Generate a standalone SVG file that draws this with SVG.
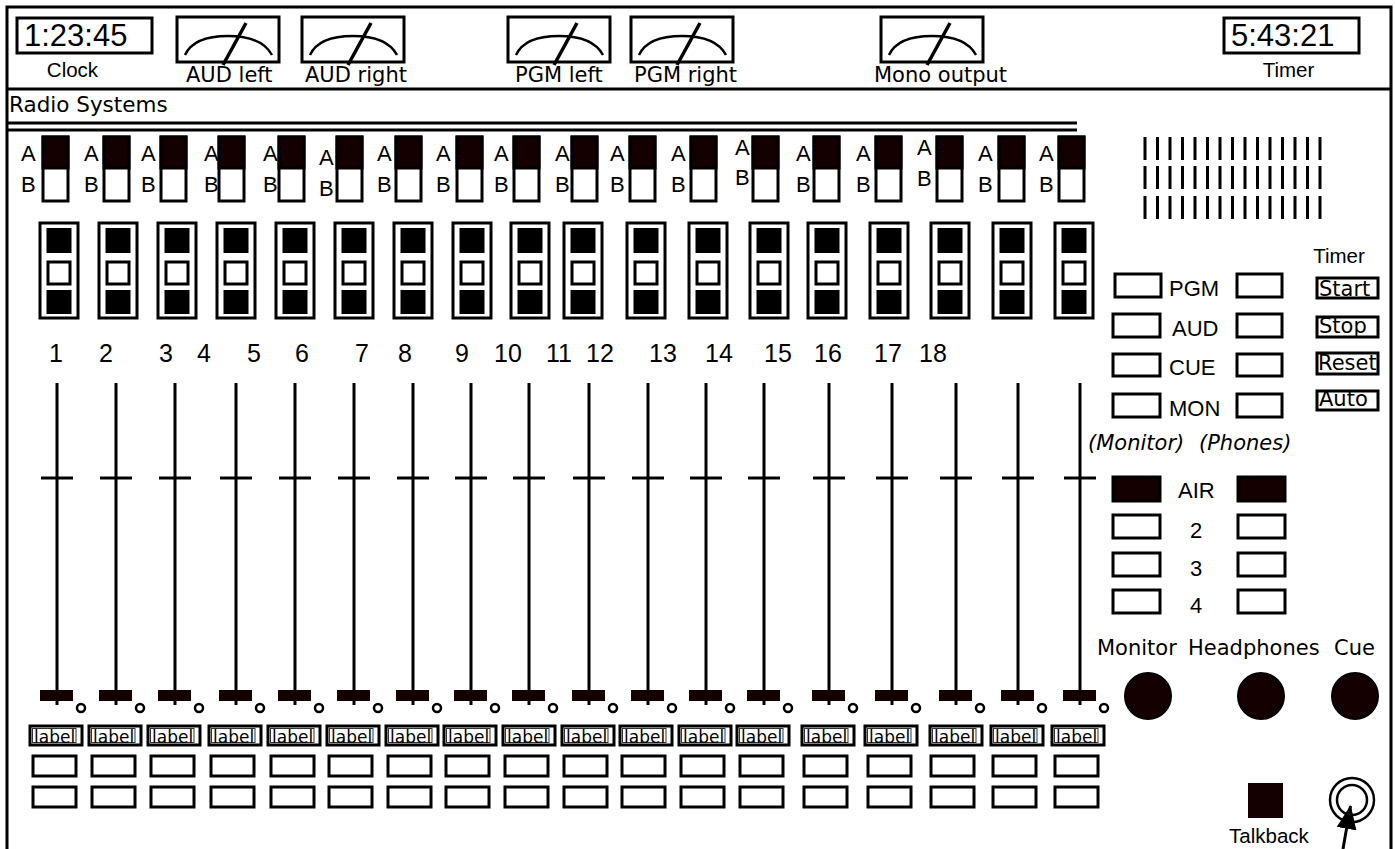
<svg xmlns="http://www.w3.org/2000/svg" width="1395" height="849" viewBox="0 0 1395 849">
<defs>
<style>
.frame{fill:none;stroke:#000;stroke-width:3}
.bx{fill:#fff;stroke:#000;stroke-width:3}
.dkb{fill:#140000;stroke:#000;stroke-width:3}
.sq{fill:#000}
.kn{fill:#140000}
.fl{stroke:#000;stroke-width:3;fill:none}
.kc{fill:#fff;stroke:#000;stroke-width:2.5}
.in{fill:none;stroke:#333;stroke-width:1}
.arc{fill:none;stroke:#000;stroke-width:2.5}
.nd{stroke:#000;stroke-width:3.5}
.knob{fill:#140000;stroke:#000;stroke-width:2}
.hv{font-family:"Liberation Sans",Arial,Helvetica,sans-serif;fill:#000}
.gv{font-family:"DejaVu Sans",Verdana,sans-serif;fill:#000}
.ab{font-size:22px}
.num{font-size:25px;text-anchor:middle}
.lb{font-size:17px}
.ml{font-size:21px}
.big{font-size:31px}
.cap{font-size:20.5px;text-anchor:middle}
.bus{font-size:22px}
.tb{font-size:21px}
</style>
<marker id="ah" viewBox="0 0 24 20" refX="23" refY="10" markerWidth="24" markerHeight="20" orient="auto" markerUnits="userSpaceOnUse">
<path d="M0,0 L24,10 L0,20 z" fill="#000"/>
</marker>
</defs>
<rect x="0" y="0" width="1395" height="849" fill="#fff"/>

<g id="frame">
<path class="frame" d="M7,849 V7 H1391 V849"/>
<line class="frame" x1="7" y1="89" x2="1391" y2="89"/>
<line class="frame" x1="7" y1="123" x2="1077" y2="123"/>
<line class="frame" x1="7" y1="130" x2="1077" y2="130"/>
</g>

<g id="clock">
<rect class="bx" x="17" y="18" width="135" height="35"/>
<text class="hv big" x="24" y="46">1:23:45</text>
<text class="hv cap" x="72.5" y="77">Clock</text>
</g>

<g id="meter-aud-left">
<rect class="bx" x="177" y="17" width="102" height="45"/>
<path class="arc" d="M185,55 C191,42 207,36 228,36 C249,36 265,42 272,55"/>
<line class="nd" x1="223" y1="65" x2="246" y2="23"/>
<text class="gv ml" x="186" y="82">AUD left</text>
</g>
<g id="meter-aud-right">
<rect class="bx" x="302" y="17" width="102" height="45"/>
<path class="arc" d="M310,55 C316,42 332,36 353,36 C374,36 390,42 397,55"/>
<line class="nd" x1="348" y1="65" x2="371" y2="23"/>
<text class="gv ml" x="305" y="82">AUD right</text>
</g>
<g id="meter-pgm-left">
<rect class="bx" x="508" y="17" width="102" height="45"/>
<path class="arc" d="M516,55 C522,42 538,36 559,36 C580,36 596,42 603,55"/>
<line class="nd" x1="554" y1="65" x2="577" y2="23"/>
<text class="gv ml" x="515" y="82">PGM left</text>
</g>
<g id="meter-pgm-right">
<rect class="bx" x="631" y="17" width="102" height="45"/>
<path class="arc" d="M639,55 C645,42 661,36 682,36 C703,36 719,42 726,55"/>
<line class="nd" x1="677" y1="65" x2="700" y2="23"/>
<text class="gv ml" x="634" y="82">PGM right</text>
</g>
<g id="meter-mono">
<rect class="bx" x="881" y="17" width="102" height="45"/>
<path class="arc" d="M889,55 C895,42 911,36 932,36 C953,36 969,42 976,55"/>
<line class="nd" x1="927" y1="65" x2="950" y2="23"/>
<text class="gv ml" x="874" y="82">Mono output</text>
</g>

<g id="timer-display">
<rect class="bx" x="1224" y="18" width="135" height="35"/>
<text class="hv big" x="1231" y="46">5:43:21</text>
<text class="hv cap" x="1288.5" y="77">Timer</text>
</g>

<g id="title">
<text class="gv" font-size="21.5" x="9" y="112">Radio Systems</text>
</g>

<g id="ch1">
<text class="hv ab" x="21" y="161">A</text><text class="hv ab" x="21" y="192">B</text>
<rect class="bx" x="43" y="137" width="25" height="64"/><rect class="dkb" x="43" y="137" width="25" height="31"/>
<rect class="bx" x="40" y="223" width="38" height="95"/><rect class="sq" x="46.5" y="228" width="25" height="25"/><rect class="bx" x="48" y="262" width="22" height="22"/><rect class="sq" x="46.5" y="290" width="25" height="24"/>
<text class="hv num" x="56" y="362">1</text>
<line class="fl" x1="57" y1="383" x2="57" y2="705"/><line class="fl" x1="41" y1="478" x2="73" y2="478"/>
<rect class="kn" x="40" y="690" width="33" height="11"/><circle class="kc" cx="81" cy="708" r="4"/>
<rect class="bx" x="30" y="726" width="52" height="19"/><rect class="in" x="32.5" y="728.5" width="43.5" height="14"/><text class="gv lb" x="34" y="742.5">label</text>
<rect class="bx" x="33" y="756" width="43" height="20"/><rect class="bx" x="33" y="787" width="43" height="20"/>
</g>
<g id="ch2">
<text class="hv ab" x="84" y="161">A</text><text class="hv ab" x="84" y="192">B</text>
<rect class="bx" x="104" y="137" width="25" height="64"/><rect class="dkb" x="104" y="137" width="25" height="31"/>
<rect class="bx" x="99" y="223" width="38" height="95"/><rect class="sq" x="105.5" y="228" width="25" height="25"/><rect class="bx" x="107" y="262" width="22" height="22"/><rect class="sq" x="105.5" y="290" width="25" height="24"/>
<text class="hv num" x="106" y="362">2</text>
<line class="fl" x1="116" y1="383" x2="116" y2="705"/><line class="fl" x1="100" y1="478" x2="132" y2="478"/>
<rect class="kn" x="99" y="690" width="33" height="11"/><circle class="kc" cx="140" cy="708" r="4"/>
<rect class="bx" x="89" y="726" width="52" height="19"/><rect class="in" x="91.5" y="728.5" width="43.5" height="14"/><text class="gv lb" x="93" y="742.5">label</text>
<rect class="bx" x="92" y="756" width="43" height="20"/><rect class="bx" x="92" y="787" width="43" height="20"/>
</g>
<g id="ch3">
<text class="hv ab" x="141" y="161">A</text><text class="hv ab" x="141" y="192">B</text>
<rect class="bx" x="161" y="137" width="25" height="64"/><rect class="dkb" x="161" y="137" width="25" height="31"/>
<rect class="bx" x="158" y="223" width="38" height="95"/><rect class="sq" x="164.5" y="228" width="25" height="25"/><rect class="bx" x="166" y="262" width="22" height="22"/><rect class="sq" x="164.5" y="290" width="25" height="24"/>
<text class="hv num" x="166" y="362">3</text>
<line class="fl" x1="175" y1="383" x2="175" y2="705"/><line class="fl" x1="159" y1="478" x2="191" y2="478"/>
<rect class="kn" x="158" y="690" width="33" height="11"/><circle class="kc" cx="199" cy="708" r="4"/>
<rect class="bx" x="148" y="726" width="52" height="19"/><rect class="in" x="150.5" y="728.5" width="43.5" height="14"/><text class="gv lb" x="152" y="742.5">label</text>
<rect class="bx" x="151" y="756" width="43" height="20"/><rect class="bx" x="151" y="787" width="43" height="20"/>
</g>
<g id="ch4">
<text class="hv ab" x="204" y="161">A</text><text class="hv ab" x="204" y="192">B</text>
<rect class="bx" x="219" y="137" width="25" height="64"/><rect class="dkb" x="219" y="137" width="25" height="31"/>
<rect class="bx" x="217" y="223" width="38" height="95"/><rect class="sq" x="223.5" y="228" width="25" height="25"/><rect class="bx" x="225" y="262" width="22" height="22"/><rect class="sq" x="223.5" y="290" width="25" height="24"/>
<text class="hv num" x="204" y="362">4</text>
<line class="fl" x1="236" y1="383" x2="236" y2="705"/><line class="fl" x1="220" y1="478" x2="252" y2="478"/>
<rect class="kn" x="219" y="690" width="33" height="11"/><circle class="kc" cx="260" cy="708" r="4"/>
<rect class="bx" x="209" y="726" width="52" height="19"/><rect class="in" x="211.5" y="728.5" width="43.5" height="14"/><text class="gv lb" x="213" y="742.5">label</text>
<rect class="bx" x="211" y="756" width="43" height="20"/><rect class="bx" x="211" y="787" width="43" height="20"/>
</g>
<g id="ch5">
<text class="hv ab" x="263" y="161">A</text><text class="hv ab" x="263" y="192">B</text>
<rect class="bx" x="279" y="137" width="25" height="64"/><rect class="dkb" x="279" y="137" width="25" height="31"/>
<rect class="bx" x="276" y="223" width="38" height="95"/><rect class="sq" x="282.5" y="228" width="25" height="25"/><rect class="bx" x="284" y="262" width="22" height="22"/><rect class="sq" x="282.5" y="290" width="25" height="24"/>
<text class="hv num" x="254" y="362">5</text>
<line class="fl" x1="295" y1="383" x2="295" y2="705"/><line class="fl" x1="279" y1="478" x2="311" y2="478"/>
<rect class="kn" x="278" y="690" width="33" height="11"/><circle class="kc" cx="319" cy="708" r="4"/>
<rect class="bx" x="268" y="726" width="52" height="19"/><rect class="in" x="270.5" y="728.5" width="43.5" height="14"/><text class="gv lb" x="272" y="742.5">label</text>
<rect class="bx" x="271" y="756" width="43" height="20"/><rect class="bx" x="271" y="787" width="43" height="20"/>
</g>
<g id="ch6">
<text class="hv ab" x="319" y="165">A</text><text class="hv ab" x="319" y="196">B</text>
<rect class="bx" x="337" y="137" width="25" height="64"/><rect class="dkb" x="337" y="137" width="25" height="31"/>
<rect class="bx" x="335" y="223" width="38" height="95"/><rect class="sq" x="341.5" y="228" width="25" height="25"/><rect class="bx" x="343" y="262" width="22" height="22"/><rect class="sq" x="341.5" y="290" width="25" height="24"/>
<text class="hv num" x="302" y="362">6</text>
<line class="fl" x1="354" y1="383" x2="354" y2="705"/><line class="fl" x1="338" y1="478" x2="370" y2="478"/>
<rect class="kn" x="337" y="690" width="33" height="11"/><circle class="kc" cx="378" cy="708" r="4"/>
<rect class="bx" x="327" y="726" width="52" height="19"/><rect class="in" x="329.5" y="728.5" width="43.5" height="14"/><text class="gv lb" x="331" y="742.5">label</text>
<rect class="bx" x="329" y="756" width="43" height="20"/><rect class="bx" x="329" y="787" width="43" height="20"/>
</g>
<g id="ch7">
<text class="hv ab" x="377" y="161">A</text><text class="hv ab" x="377" y="192">B</text>
<rect class="bx" x="396" y="137" width="25" height="64"/><rect class="dkb" x="396" y="137" width="25" height="31"/>
<rect class="bx" x="394" y="223" width="38" height="95"/><rect class="sq" x="400.5" y="228" width="25" height="25"/><rect class="bx" x="402" y="262" width="22" height="22"/><rect class="sq" x="400.5" y="290" width="25" height="24"/>
<text class="hv num" x="362" y="362">7</text>
<line class="fl" x1="413" y1="383" x2="413" y2="705"/><line class="fl" x1="397" y1="478" x2="429" y2="478"/>
<rect class="kn" x="396" y="690" width="33" height="11"/><circle class="kc" cx="437" cy="708" r="4"/>
<rect class="bx" x="386" y="726" width="52" height="19"/><rect class="in" x="388.5" y="728.5" width="43.5" height="14"/><text class="gv lb" x="390" y="742.5">label</text>
<rect class="bx" x="388" y="756" width="43" height="20"/><rect class="bx" x="388" y="787" width="43" height="20"/>
</g>
<g id="ch8">
<text class="hv ab" x="436" y="161">A</text><text class="hv ab" x="436" y="192">B</text>
<rect class="bx" x="457" y="137" width="25" height="64"/><rect class="dkb" x="457" y="137" width="25" height="31"/>
<rect class="bx" x="453" y="223" width="38" height="95"/><rect class="sq" x="459.5" y="228" width="25" height="25"/><rect class="bx" x="461" y="262" width="22" height="22"/><rect class="sq" x="459.5" y="290" width="25" height="24"/>
<text class="hv num" x="405" y="362">8</text>
<line class="fl" x1="471" y1="383" x2="471" y2="705"/><line class="fl" x1="455" y1="478" x2="487" y2="478"/>
<rect class="kn" x="454" y="690" width="33" height="11"/><circle class="kc" cx="495" cy="708" r="4"/>
<rect class="bx" x="444" y="726" width="52" height="19"/><rect class="in" x="446.5" y="728.5" width="43.5" height="14"/><text class="gv lb" x="448" y="742.5">label</text>
<rect class="bx" x="446" y="756" width="43" height="20"/><rect class="bx" x="446" y="787" width="43" height="20"/>
</g>
<g id="ch9">
<text class="hv ab" x="494" y="161">A</text><text class="hv ab" x="494" y="192">B</text>
<rect class="bx" x="514" y="137" width="25" height="64"/><rect class="dkb" x="514" y="137" width="25" height="31"/>
<rect class="bx" x="511" y="223" width="38" height="95"/><rect class="sq" x="517.5" y="228" width="25" height="25"/><rect class="bx" x="519" y="262" width="22" height="22"/><rect class="sq" x="517.5" y="290" width="25" height="24"/>
<text class="hv num" x="462" y="362">9</text>
<line class="fl" x1="529" y1="383" x2="529" y2="705"/><line class="fl" x1="513" y1="478" x2="545" y2="478"/>
<rect class="kn" x="512" y="690" width="33" height="11"/><circle class="kc" cx="553" cy="708" r="4"/>
<rect class="bx" x="503" y="726" width="52" height="19"/><rect class="in" x="505.5" y="728.5" width="43.5" height="14"/><text class="gv lb" x="507" y="742.5">label</text>
<rect class="bx" x="505" y="756" width="43" height="20"/><rect class="bx" x="505" y="787" width="43" height="20"/>
</g>
<g id="ch10">
<text class="hv ab" x="555" y="161">A</text><text class="hv ab" x="555" y="192">B</text>
<rect class="bx" x="572" y="137" width="25" height="64"/><rect class="dkb" x="572" y="137" width="25" height="31"/>
<rect class="bx" x="564" y="223" width="38" height="95"/><rect class="sq" x="570.5" y="228" width="25" height="25"/><rect class="bx" x="572" y="262" width="22" height="22"/><rect class="sq" x="570.5" y="290" width="25" height="24"/>
<text class="hv num" x="508" y="362">10</text>
<line class="fl" x1="589" y1="383" x2="589" y2="705"/><line class="fl" x1="573" y1="478" x2="605" y2="478"/>
<rect class="kn" x="572" y="690" width="33" height="11"/><circle class="kc" cx="613" cy="708" r="4"/>
<rect class="bx" x="562" y="726" width="52" height="19"/><rect class="in" x="564.5" y="728.5" width="43.5" height="14"/><text class="gv lb" x="566" y="742.5">label</text>
<rect class="bx" x="564" y="756" width="43" height="20"/><rect class="bx" x="564" y="787" width="43" height="20"/>
</g>
<g id="ch11">
<text class="hv ab" x="610" y="161">A</text><text class="hv ab" x="610" y="192">B</text>
<rect class="bx" x="630" y="137" width="25" height="64"/><rect class="dkb" x="630" y="137" width="25" height="31"/>
<rect class="bx" x="627" y="223" width="38" height="95"/><rect class="sq" x="633.5" y="228" width="25" height="25"/><rect class="bx" x="635" y="262" width="22" height="22"/><rect class="sq" x="633.5" y="290" width="25" height="24"/>
<text class="hv num" x="559" y="362">11</text>
<line class="fl" x1="648" y1="383" x2="648" y2="705"/><line class="fl" x1="632" y1="478" x2="664" y2="478"/>
<rect class="kn" x="631" y="690" width="33" height="11"/><circle class="kc" cx="672" cy="708" r="4"/>
<rect class="bx" x="620" y="726" width="52" height="19"/><rect class="in" x="622.5" y="728.5" width="43.5" height="14"/><text class="gv lb" x="624" y="742.5">label</text>
<rect class="bx" x="622" y="756" width="43" height="20"/><rect class="bx" x="622" y="787" width="43" height="20"/>
</g>
<g id="ch12">
<text class="hv ab" x="671" y="161">A</text><text class="hv ab" x="671" y="192">B</text>
<rect class="bx" x="691" y="137" width="25" height="64"/><rect class="dkb" x="691" y="137" width="25" height="31"/>
<rect class="bx" x="689" y="223" width="38" height="95"/><rect class="sq" x="695.5" y="228" width="25" height="25"/><rect class="bx" x="697" y="262" width="22" height="22"/><rect class="sq" x="695.5" y="290" width="25" height="24"/>
<text class="hv num" x="600" y="362">12</text>
<line class="fl" x1="706" y1="383" x2="706" y2="705"/><line class="fl" x1="690" y1="478" x2="722" y2="478"/>
<rect class="kn" x="689" y="690" width="33" height="11"/><circle class="kc" cx="730" cy="708" r="4"/>
<rect class="bx" x="679" y="726" width="52" height="19"/><rect class="in" x="681.5" y="728.5" width="43.5" height="14"/><text class="gv lb" x="683" y="742.5">label</text>
<rect class="bx" x="681" y="756" width="43" height="20"/><rect class="bx" x="681" y="787" width="43" height="20"/>
</g>
<g id="ch13">
<text class="hv ab" x="735" y="155">A</text><text class="hv ab" x="735" y="185">B</text>
<rect class="bx" x="753" y="137" width="25" height="64"/><rect class="dkb" x="753" y="137" width="25" height="31"/>
<rect class="bx" x="750" y="223" width="38" height="95"/><rect class="sq" x="756.5" y="228" width="25" height="25"/><rect class="bx" x="758" y="262" width="22" height="22"/><rect class="sq" x="756.5" y="290" width="25" height="24"/>
<text class="hv num" x="663" y="362">13</text>
<line class="fl" x1="764" y1="383" x2="764" y2="705"/><line class="fl" x1="748" y1="478" x2="780" y2="478"/>
<rect class="kn" x="747" y="690" width="33" height="11"/><circle class="kc" cx="788" cy="708" r="4"/>
<rect class="bx" x="737" y="726" width="52" height="19"/><rect class="in" x="739.5" y="728.5" width="43.5" height="14"/><text class="gv lb" x="741" y="742.5">label</text>
<rect class="bx" x="740" y="756" width="43" height="20"/><rect class="bx" x="740" y="787" width="43" height="20"/>
</g>
<g id="ch14">
<text class="hv ab" x="796" y="161">A</text><text class="hv ab" x="796" y="192">B</text>
<rect class="bx" x="814" y="137" width="25" height="64"/><rect class="dkb" x="814" y="137" width="25" height="31"/>
<rect class="bx" x="808" y="223" width="38" height="95"/><rect class="sq" x="814.5" y="228" width="25" height="25"/><rect class="bx" x="816" y="262" width="22" height="22"/><rect class="sq" x="814.5" y="290" width="25" height="24"/>
<text class="hv num" x="719" y="362">14</text>
<line class="fl" x1="829" y1="383" x2="829" y2="705"/><line class="fl" x1="813" y1="478" x2="845" y2="478"/>
<rect class="kn" x="812" y="690" width="33" height="11"/><circle class="kc" cx="853" cy="708" r="4"/>
<rect class="bx" x="802" y="726" width="52" height="19"/><rect class="in" x="804.5" y="728.5" width="43.5" height="14"/><text class="gv lb" x="806" y="742.5">label</text>
<rect class="bx" x="804" y="756" width="43" height="20"/><rect class="bx" x="804" y="787" width="43" height="20"/>
</g>
<g id="ch15">
<text class="hv ab" x="856" y="161">A</text><text class="hv ab" x="856" y="192">B</text>
<rect class="bx" x="876" y="137" width="25" height="64"/><rect class="dkb" x="876" y="137" width="25" height="31"/>
<rect class="bx" x="870" y="223" width="38" height="95"/><rect class="sq" x="876.5" y="228" width="25" height="25"/><rect class="bx" x="878" y="262" width="22" height="22"/><rect class="sq" x="876.5" y="290" width="25" height="24"/>
<text class="hv num" x="778" y="362">15</text>
<line class="fl" x1="892" y1="383" x2="892" y2="705"/><line class="fl" x1="876" y1="478" x2="908" y2="478"/>
<rect class="kn" x="875" y="690" width="33" height="11"/><circle class="kc" cx="916" cy="708" r="4"/>
<rect class="bx" x="865" y="726" width="52" height="19"/><rect class="in" x="867.5" y="728.5" width="43.5" height="14"/><text class="gv lb" x="869" y="742.5">label</text>
<rect class="bx" x="868" y="756" width="43" height="20"/><rect class="bx" x="868" y="787" width="43" height="20"/>
</g>
<g id="ch16">
<text class="hv ab" x="917" y="155">A</text><text class="hv ab" x="917" y="186">B</text>
<rect class="bx" x="937" y="137" width="25" height="64"/><rect class="dkb" x="937" y="137" width="25" height="31"/>
<rect class="bx" x="931" y="223" width="38" height="95"/><rect class="sq" x="937.5" y="228" width="25" height="25"/><rect class="bx" x="939" y="262" width="22" height="22"/><rect class="sq" x="937.5" y="290" width="25" height="24"/>
<text class="hv num" x="828" y="362">16</text>
<line class="fl" x1="956" y1="383" x2="956" y2="705"/><line class="fl" x1="940" y1="478" x2="972" y2="478"/>
<rect class="kn" x="939" y="690" width="33" height="11"/><circle class="kc" cx="980" cy="708" r="4"/>
<rect class="bx" x="930" y="726" width="52" height="19"/><rect class="in" x="932.5" y="728.5" width="43.5" height="14"/><text class="gv lb" x="934" y="742.5">label</text>
<rect class="bx" x="931" y="756" width="43" height="20"/><rect class="bx" x="931" y="787" width="43" height="20"/>
</g>
<g id="ch17">
<text class="hv ab" x="978" y="161">A</text><text class="hv ab" x="978" y="192">B</text>
<rect class="bx" x="999" y="137" width="25" height="64"/><rect class="dkb" x="999" y="137" width="25" height="31"/>
<rect class="bx" x="993" y="223" width="38" height="95"/><rect class="sq" x="999.5" y="228" width="25" height="25"/><rect class="bx" x="1001" y="262" width="22" height="22"/><rect class="sq" x="999.5" y="290" width="25" height="24"/>
<text class="hv num" x="888" y="362">17</text>
<line class="fl" x1="1018" y1="383" x2="1018" y2="705"/><line class="fl" x1="1002" y1="478" x2="1034" y2="478"/>
<rect class="kn" x="1001" y="690" width="33" height="11"/><circle class="kc" cx="1042" cy="708" r="4"/>
<rect class="bx" x="991" y="726" width="52" height="19"/><rect class="in" x="993.5" y="728.5" width="43.5" height="14"/><text class="gv lb" x="995" y="742.5">label</text>
<rect class="bx" x="993" y="756" width="43" height="20"/><rect class="bx" x="993" y="787" width="43" height="20"/>
</g>
<g id="ch18">
<text class="hv ab" x="1039" y="161">A</text><text class="hv ab" x="1039" y="192">B</text>
<rect class="bx" x="1059" y="137" width="25" height="64"/><rect class="dkb" x="1059" y="137" width="25" height="31"/>
<rect class="bx" x="1055" y="223" width="38" height="95"/><rect class="sq" x="1061.5" y="228" width="25" height="25"/><rect class="bx" x="1063" y="262" width="22" height="22"/><rect class="sq" x="1061.5" y="290" width="25" height="24"/>
<text class="hv num" x="933" y="362">18</text>
<line class="fl" x1="1080" y1="383" x2="1080" y2="705"/><line class="fl" x1="1064" y1="478" x2="1096" y2="478"/>
<rect class="kn" x="1063" y="690" width="33" height="11"/><circle class="kc" cx="1104" cy="708" r="4"/>
<rect class="bx" x="1052" y="726" width="52" height="19"/><rect class="in" x="1054.5" y="728.5" width="43.5" height="14"/><text class="gv lb" x="1056" y="742.5">label</text>
<rect class="bx" x="1055" y="756" width="43" height="20"/><rect class="bx" x="1055" y="787" width="43" height="20"/>
</g>

<g id="level-ticks">
<path class="fl" d="M1145,137V160M1157.5,137V160M1170,137V160M1182.5,137V160M1195,137V160M1207.5,137V160M1220,137V160M1232.5,137V160M1245,137V160M1257.5,137V160M1270,137V160M1282.5,137V160M1295,137V160M1307.5,137V160M1320,137V160
M1145,166V189M1157.5,166V189M1170,166V189M1182.5,166V189M1195,166V189M1207.5,166V189M1220,166V189M1232.5,166V189M1245,166V189M1257.5,166V189M1270,166V189M1282.5,166V189M1295,166V189M1307.5,166V189M1320,166V189
M1145,196V219M1157.5,196V219M1170,196V219M1182.5,196V219M1195,196V219M1207.5,196V219M1220,196V219M1232.5,196V219M1245,196V219M1257.5,196V219M1270,196V219M1282.5,196V219M1295,196V219M1307.5,196V219M1320,196V219"/>
</g>

<g id="timer-buttons">
<text class="hv cap" x="1339" y="263">Timer</text>
<rect class="bx" x="1317" y="278" width="61" height="20"/><text class="gv tb" x="1319" y="296">Start</text>
<rect class="bx" x="1317" y="317" width="61" height="20"/><text class="gv tb" x="1319" y="333">Stop</text>
<rect class="bx" x="1317" y="353" width="61" height="21"/><text class="gv tb" x="1318" y="370">Reset</text>
<rect class="bx" x="1317" y="391" width="61" height="19"/><text class="gv tb" x="1319" y="406">Auto</text>
</g>

<g id="bus-select">
<rect class="bx" x="1115" y="274" width="46" height="23"/><text class="hv bus" x="1169" y="296">PGM</text><rect class="bx" x="1237" y="274" width="45" height="23"/>
<rect class="bx" x="1113" y="314" width="47" height="23"/><text class="hv bus" x="1172" y="336">AUD</text><rect class="bx" x="1237" y="314" width="45" height="23"/>
<rect class="bx" x="1113" y="354" width="47" height="22"/><text class="hv bus" x="1169" y="375">CUE</text><rect class="bx" x="1237" y="354" width="45" height="22"/>
<rect class="bx" x="1113" y="394" width="47" height="23"/><text class="hv bus" x="1169" y="416">MON</text><rect class="bx" x="1237" y="394" width="45" height="23"/>
<text class="gv" font-size="21" font-style="italic" x="1088" y="450">(Monitor)</text>
<text class="gv" font-size="21" font-style="italic" x="1199" y="450">(Phones)</text>
</g>

<g id="source-select">
<rect class="dkb" x="1113" y="477" width="47" height="24"/><text class="hv bus" x="1178" y="498">AIR</text><rect class="dkb" x="1238" y="477" width="47" height="24"/>
<rect class="bx" x="1113" y="515" width="47" height="23"/><text class="hv bus" x="1190" y="538">2</text><rect class="bx" x="1238" y="515" width="47" height="23"/>
<rect class="bx" x="1113" y="553" width="47" height="23"/><text class="hv bus" x="1190" y="576">3</text><rect class="bx" x="1238" y="553" width="47" height="23"/>
<rect class="bx" x="1113" y="590" width="47" height="23"/><text class="hv bus" x="1190" y="613">4</text><rect class="bx" x="1238" y="590" width="47" height="23"/>
</g>

<g id="level-knobs">
<text class="gv" font-size="21" x="1097" y="655">Monitor</text>
<text class="gv" font-size="21" x="1188" y="655">Headphones</text>
<text class="gv" font-size="21" x="1334" y="655">Cue</text>
<circle class="knob" cx="1148" cy="696" r="23"/>
<circle class="knob" cx="1261" cy="696" r="23"/>
<circle class="knob" cx="1355" cy="696" r="23"/>
</g>

<g id="talkback">
<rect class="kn" x="1248" y="783" width="35" height="35"/>
<text class="hv cap" x="1269" y="843">Talkback</text>
</g>

<g id="jack">
<circle class="arc" cx="1352" cy="800" r="22"/>
<circle class="arc" cx="1352" cy="800" r="15"/>
</g>

<g id="connectors">
<line x1="1343" y1="849" x2="1350.5" y2="806" stroke="#000" stroke-width="3" marker-end="url(#ah)"/>
</g>
</svg>
